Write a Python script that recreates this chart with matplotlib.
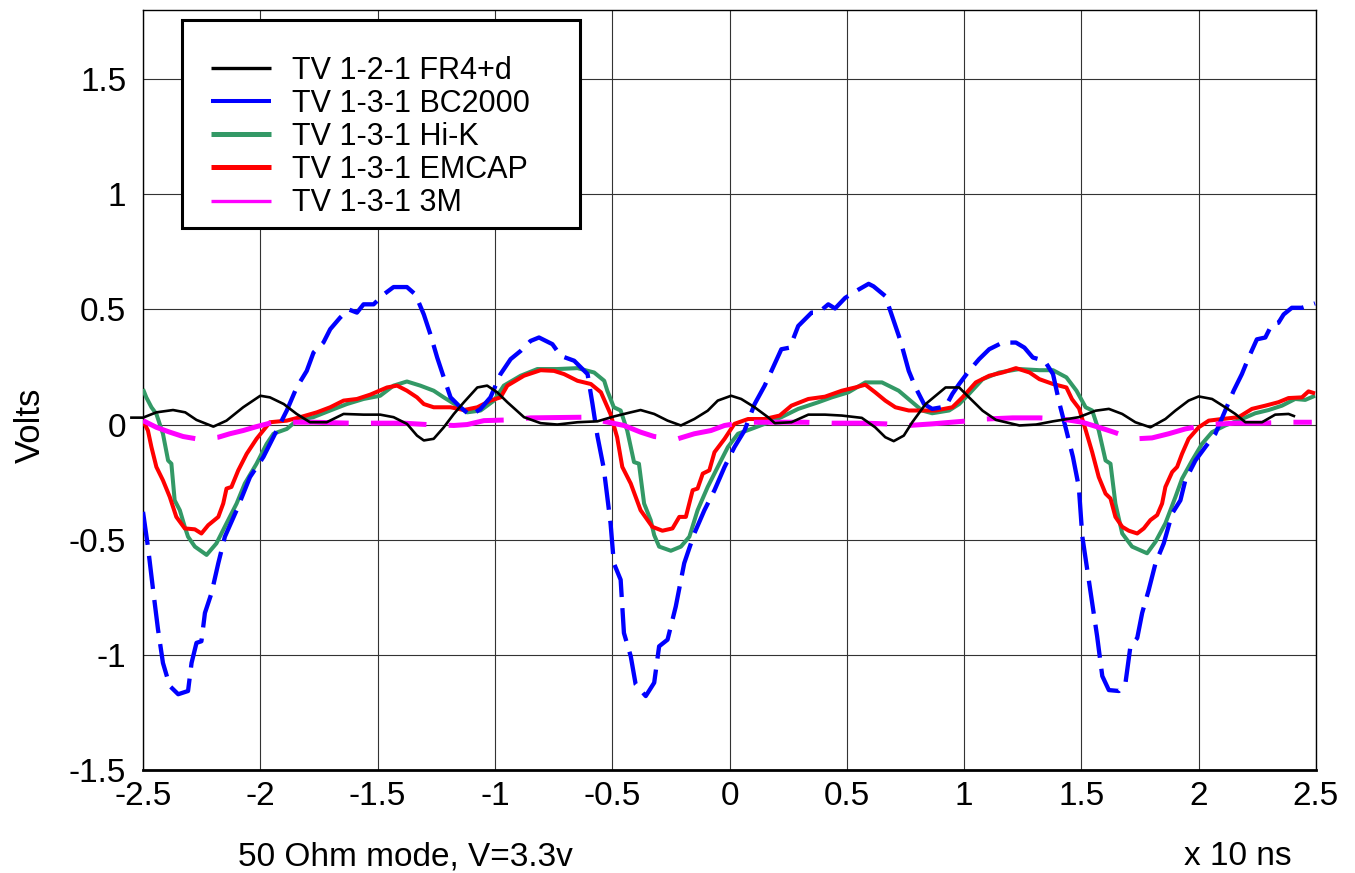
import matplotlib
matplotlib.use("Agg")
import matplotlib.pyplot as plt
from matplotlib.lines import Line2D
from matplotlib.patches import Rectangle
import numpy as np

plt.rcParams["font.family"] = ["Liberation Sans", "DejaVu Sans"]
plt.rcParams["lines.scale_dashes"] = False

# ---- axis ticks -------------------------------------------------------------
x_ticks = [-2.5, -2.0, -1.5, -1.0, -0.5, 0.0, 0.5, 1.0, 1.5, 2.0, 2.5]
x_tick_labels = ["-2.5", "-2", "-1.5", "-1", "-0.5", "0", "0.5", "1", "1.5", "2", "2.5"]
y_ticks = [-1.5, -1.0, -0.5, 0.0, 0.5, 1.0, 1.5]
y_tick_labels = ["-1.5", "-1", "-0.5", "0", "0.5", "1", "1.5"]

series_labels = ["TV 1-2-1 FR4+d", "TV 1-3-1 BC2000", "TV 1-3-1 Hi-K",
                 "TV 1-3-1 EMCAP", "TV 1-3-1 3M"]

# ---- measured waveforms: (time [x10 ns], volts) ------------------------------
fr4d = [
    (-2.555, 0.030), (-2.500, 0.030), (-2.443, 0.053), (-2.372, 0.063), (-2.320, 0.053),
    (-2.272, 0.020), (-2.200, -0.009), (-2.144, 0.017), (-2.073, 0.075), (-2.000, 0.125),
    (-1.959, 0.118), (-1.900, 0.089), (-1.845, 0.046), (-1.788, 0.010), (-1.717, 0.010),
    (-1.645, 0.046), (-1.560, 0.043), (-1.489, 0.043), (-1.432, 0.032), (-1.375, 0.003),
    (-1.332, -0.048), (-1.303, -0.069), (-1.261, -0.062), (-1.218, -0.012), (-1.175, 0.046),
    (-1.132, 0.097), (-1.075, 0.161), (-1.033, 0.169), (-0.990, 0.140), (-0.947, 0.097),
    (-0.876, 0.032), (-0.805, 0.006), (-0.734, 0.000), (-0.648, 0.010), (-0.563, 0.014),
    (-0.493, 0.035), (-0.421, 0.053), (-0.379, 0.063), (-0.321, 0.046), (-0.264, 0.017),
    (-0.207, -0.004), (-0.150, 0.024), (-0.093, 0.060), (-0.050, 0.104), (0.007, 0.125),
    (0.050, 0.111), (0.107, 0.075), (0.164, 0.032), (0.193, 0.006), (0.264, 0.010),
    (0.336, 0.043), (0.407, 0.043), (0.479, 0.039), (0.564, 0.029), (0.621, -0.012),
    (0.664, -0.055), (0.700, -0.072), (0.743, -0.048), (0.779, 0.010), (0.836, 0.089),
    (0.921, 0.161), (0.979, 0.161), (1.021, 0.118), (1.079, 0.060), (1.136, 0.020),
    (1.236, -0.004), (1.307, 0.000), (1.379, 0.014), (1.489, 0.032), (1.560, 0.060),
    (1.617, 0.068), (1.674, 0.046), (1.730, 0.010), (1.794, -0.012), (1.858, 0.024),
    (1.900, 0.060), (1.957, 0.104), (2.000, 0.122), (2.057, 0.111), (2.113, 0.075),
    (2.156, 0.046), (2.199, 0.010), (2.270, 0.010), (2.326, 0.043), (2.383, 0.046),
    (2.411, 0.035),
]

bc2000 = [
    (-2.500, -0.379), (-2.479, -0.530), (-2.457, -0.718), (-2.436, -0.890), (-2.415, -1.035),
    (-2.386, -1.135), (-2.350, -1.171), (-2.308, -1.157), (-2.293, -1.035), (-2.272, -0.948),
    (-2.251, -0.941), (-2.236, -0.818), (-2.208, -0.732), (-2.179, -0.602), (-2.151, -0.487),
    (-2.101, -0.372), (-2.044, -0.228), (-1.987, -0.141), (-1.930, -0.026), (-1.887, 0.061),
    (-1.845, 0.161), (-1.802, 0.233), (-1.773, 0.313), (-1.731, 0.356), (-1.702, 0.414),
    (-1.660, 0.464), (-1.624, 0.500), (-1.588, 0.486), (-1.560, 0.522), (-1.517, 0.522),
    (-1.474, 0.565), (-1.432, 0.597), (-1.375, 0.597), (-1.339, 0.565), (-1.303, 0.478),
    (-1.275, 0.392), (-1.246, 0.291), (-1.218, 0.205), (-1.189, 0.118), (-1.147, 0.075),
    (-1.104, 0.039), (-1.061, 0.068), (-1.019, 0.118), (-0.976, 0.219), (-0.933, 0.284),
    (-0.890, 0.320), (-0.848, 0.363), (-0.812, 0.378), (-0.755, 0.349), (-0.719, 0.298),
    (-0.662, 0.277), (-0.605, 0.219), (-0.584, 0.089), (-0.563, -0.050), (-0.536, -0.190),
    (-0.507, -0.429), (-0.493, -0.602), (-0.464, -0.674), (-0.450, -0.905), (-0.421, -1.006),
    (-0.400, -1.128), (-0.357, -1.179), (-0.321, -1.121), (-0.300, -0.963), (-0.264, -0.934),
    (-0.229, -0.790), (-0.193, -0.602), (-0.150, -0.473), (-0.107, -0.372), (-0.064, -0.285),
    (-0.021, -0.184), (0.021, -0.098), (0.064, -0.026), (0.107, 0.089), (0.150, 0.169),
    (0.179, 0.233), (0.221, 0.327), (0.257, 0.334), (0.293, 0.428), (0.350, 0.486),
    (0.379, 0.486), (0.421, 0.522), (0.450, 0.504), (0.493, 0.550), (0.550, 0.586),
    (0.593, 0.611), (0.614, 0.600), (0.664, 0.558), (0.700, 0.450), (0.729, 0.363),
    (0.764, 0.233), (0.793, 0.161), (0.829, 0.089), (0.864, 0.068), (0.921, 0.078),
    (0.950, 0.133), (0.979, 0.176), (1.021, 0.233), (1.064, 0.284), (1.107, 0.327),
    (1.164, 0.356), (1.221, 0.356), (1.257, 0.334), (1.293, 0.291), (1.343, 0.277),
    (1.379, 0.219), (1.407, 0.089), (1.436, -0.026), (1.464, -0.141), (1.489, -0.271),
    (1.504, -0.487), (1.525, -0.631), (1.546, -0.775), (1.567, -0.919), (1.589, -1.092),
    (1.617, -1.153), (1.660, -1.157), (1.688, -1.121), (1.709, -0.963), (1.738, -0.927),
    (1.759, -0.818), (1.787, -0.718), (1.816, -0.602), (1.851, -0.516), (1.887, -0.386),
    (1.922, -0.329), (1.943, -0.242), (1.986, -0.156), (2.028, -0.098), (2.071, -0.040),
    (2.113, 0.061), (2.149, 0.147), (2.184, 0.219), (2.213, 0.291), (2.248, 0.370),
    (2.284, 0.378), (2.312, 0.435), (2.340, 0.442), (2.362, 0.478), (2.397, 0.507),
    (2.440, 0.507), (2.496, 0.526),
]

hik = [
    (-2.500, 0.154), (-2.486, 0.118), (-2.464, 0.075), (-2.443, 0.046), (-2.415, -0.040),
    (-2.393, -0.156), (-2.379, -0.170), (-2.365, -0.329), (-2.343, -0.372), (-2.322, -0.444),
    (-2.308, -0.487), (-2.279, -0.530), (-2.229, -0.566), (-2.187, -0.516), (-2.144, -0.429),
    (-2.101, -0.343), (-2.066, -0.256), (-2.016, -0.170), (-1.973, -0.084), (-1.944, -0.040),
    (-1.887, -0.019), (-1.845, 0.017), (-1.774, 0.032), (-1.702, 0.061), (-1.631, 0.089),
    (-1.560, 0.111), (-1.489, 0.125), (-1.432, 0.169), (-1.375, 0.187), (-1.318, 0.169),
    (-1.261, 0.147), (-1.218, 0.118), (-1.161, 0.082), (-1.118, 0.053), (-1.061, 0.061),
    (-1.004, 0.104), (-0.962, 0.169), (-0.890, 0.212), (-0.819, 0.241), (-0.734, 0.241),
    (-0.648, 0.245), (-0.577, 0.226), (-0.534, 0.190), (-0.521, 0.147), (-0.493, 0.075),
    (-0.464, 0.061), (-0.436, -0.026), (-0.407, -0.163), (-0.386, -0.170), (-0.364, -0.343),
    (-0.336, -0.415), (-0.321, -0.480), (-0.300, -0.530), (-0.250, -0.548), (-0.207, -0.530),
    (-0.171, -0.487), (-0.136, -0.372), (-0.093, -0.271), (-0.050, -0.184), (-0.007, -0.098),
    (0.036, -0.040), (0.093, -0.019), (0.150, 0.003), (0.221, 0.032), (0.293, 0.068),
    (0.379, 0.097), (0.436, 0.118), (0.507, 0.140), (0.579, 0.183), (0.650, 0.183),
    (0.721, 0.147), (0.779, 0.097), (0.821, 0.061), (0.864, 0.049), (0.936, 0.061),
    (0.979, 0.089), (1.021, 0.133), (1.079, 0.197), (1.150, 0.226), (1.236, 0.241),
    (1.321, 0.236), (1.379, 0.236), (1.436, 0.205), (1.479, 0.147), (1.518, 0.075),
    (1.546, 0.061), (1.574, -0.026), (1.603, -0.156), (1.624, -0.170), (1.645, -0.343),
    (1.674, -0.473), (1.716, -0.530), (1.780, -0.559), (1.816, -0.509), (1.858, -0.429),
    (1.901, -0.314), (1.929, -0.235), (1.972, -0.156), (2.014, -0.084), (2.057, -0.033),
    (2.113, -0.004), (2.184, 0.024), (2.241, 0.049), (2.298, 0.063), (2.355, 0.082),
    (2.411, 0.111), (2.454, 0.107), (2.496, 0.125),
]

emcap = [
    (-2.500, 0.017), (-2.479, -0.026), (-2.464, -0.098), (-2.443, -0.184), (-2.415, -0.242),
    (-2.386, -0.314), (-2.358, -0.401), (-2.322, -0.451), (-2.279, -0.455), (-2.251, -0.473),
    (-2.222, -0.437), (-2.179, -0.401), (-2.158, -0.343), (-2.144, -0.278), (-2.123, -0.271),
    (-2.094, -0.199), (-2.058, -0.127), (-2.016, -0.062), (-1.959, 0.010), (-1.887, 0.017),
    (-1.830, 0.032), (-1.759, 0.053), (-1.702, 0.075), (-1.645, 0.104), (-1.588, 0.111),
    (-1.531, 0.130), (-1.460, 0.161), (-1.417, 0.169), (-1.375, 0.147), (-1.332, 0.118),
    (-1.303, 0.089), (-1.261, 0.075), (-1.189, 0.075), (-1.132, 0.063), (-1.075, 0.075),
    (-1.019, 0.104), (-0.976, 0.118), (-0.947, 0.169), (-0.876, 0.212), (-0.805, 0.236),
    (-0.748, 0.233), (-0.705, 0.219), (-0.648, 0.190), (-0.591, 0.176), (-0.548, 0.140),
    (-0.507, 0.045), (-0.479, -0.055), (-0.457, -0.184), (-0.421, -0.256), (-0.379, -0.372),
    (-0.329, -0.444), (-0.286, -0.461), (-0.243, -0.451), (-0.214, -0.401), (-0.186, -0.401),
    (-0.157, -0.285), (-0.136, -0.278), (-0.114, -0.213), (-0.086, -0.199), (-0.064, -0.120),
    (-0.021, -0.062), (0.021, 0.003), (0.079, 0.024), (0.150, 0.024), (0.214, 0.039),
    (0.264, 0.082), (0.336, 0.111), (0.407, 0.121), (0.479, 0.147), (0.536, 0.161),
    (0.579, 0.173), (0.621, 0.140), (0.664, 0.104), (0.707, 0.075), (0.764, 0.061),
    (0.821, 0.061), (0.879, 0.061), (0.950, 0.075), (0.993, 0.118), (1.050, 0.183),
    (1.107, 0.212), (1.164, 0.226), (1.221, 0.245), (1.279, 0.226), (1.321, 0.197),
    (1.379, 0.176), (1.436, 0.161), (1.460, 0.110), (1.490, 0.070), (1.520, -0.030),
    (1.546, -0.120), (1.574, -0.228), (1.603, -0.300), (1.624, -0.321), (1.645, -0.401),
    (1.674, -0.444), (1.702, -0.461), (1.738, -0.473), (1.766, -0.451), (1.794, -0.415),
    (1.823, -0.393), (1.844, -0.343), (1.858, -0.271), (1.887, -0.206), (1.908, -0.184),
    (1.929, -0.127), (1.957, -0.062), (2.000, -0.012), (2.043, 0.017), (2.099, 0.024),
    (2.170, 0.032), (2.227, 0.068), (2.284, 0.082), (2.340, 0.097), (2.383, 0.115),
    (2.440, 0.118), (2.468, 0.144), (2.496, 0.135),
]

tm3 = [
    (-2.500, 0.017), (-2.443, -0.012), (-2.386, -0.033), (-2.329, -0.052), (-2.272, -0.062),
    (-2.220, -0.060), (-2.179, -0.055), (-2.130, -0.040), (-2.073, -0.026), (-2.016, -0.009),
    (-1.944, 0.010), (-1.859, 0.010), (-1.774, 0.010), (-1.617, 0.006), (-1.503, 0.006),
    (-1.389, 0.006), (-1.289, 0.000), (-1.175, -0.004), (-1.118, 0.000), (-1.047, 0.017),
    (-0.947, 0.020), (-0.848, 0.029), (-0.605, 0.032), (-0.536, 0.014), (-0.450, -0.004),
    (-0.379, -0.033), (-0.321, -0.052), (-0.221, -0.062), (-0.150, -0.040), (-0.079, -0.026),
    (-0.021, -0.004), (0.064, 0.010), (0.179, 0.010), (0.321, 0.010), (0.436, 0.006),
    (0.579, 0.006), (0.664, 0.003), (0.764, -0.004), (0.864, 0.003), (0.993, 0.014),
    (1.093, 0.024), (1.207, 0.029), (1.321, 0.029), (1.418, 0.024), (1.504, 0.010),
    (1.574, -0.012), (1.638, -0.033), (1.700, -0.055), (1.730, -0.062), (1.801, -0.058),
    (1.872, -0.040), (1.943, -0.019), (2.043, 0.000), (2.156, 0.006), (2.270, 0.006),
    (2.383, 0.010), (2.482, 0.010),
]

# ---- figure -----------------------------------------------------------------
W, H = 1355, 873
fig = plt.figure(figsize=(W / 100, H / 100), dpi=100)
ax = fig.add_axes([143 / W, 103 / H, 1173 / W, 760 / H])
ax.set_xlim(-2.5, 2.5)
ax.set_ylim(-1.5, 1.8)


def ax_x(px):
    return (px - 143) / 1173


def ax_y(py):
    return (770 - py) / 760


styles = [
    # data, colour, width, dash pattern, zorder, clip
    (fr4d, "#000000", 1.9, None, 3.6, False),
    (bc2000, "#0000ff", 3.1, (24, 8), 3.2, True),
    (hik, "#339966", 2.9, None, 3.0, True),
    (emcap, "#ff0000", 2.9, None, 3.1, True),
    (tm3, "#ff00ff", 3.6, (40, 16), 3.4, True),
]

for (data, color, lw, dashes, z, clip), label in zip(styles, series_labels):
    t, v = np.array(data).T
    line, = ax.plot(t, v, color=color, lw=lw, zorder=z, label=label,
                    solid_joinstyle="round", dash_joinstyle="round",
                    solid_capstyle="butt", dash_capstyle="butt")
    if dashes is not None:
        line.set_dashes(dashes)
    line.set_clip_on(clip)

# grid, ticks, spines
ax.set_xticks(x_ticks)
ax.set_xticklabels(x_tick_labels)
ax.set_yticks(y_ticks)
ax.set_yticklabels(y_tick_labels)
ax.grid(True, color="#333333", lw=0.8)
ax.set_axisbelow(True)
ax.tick_params(axis="x", length=0, pad=8, labelsize=24)
ax.tick_params(axis="y", length=0, pad=12, labelsize=24)
for name, sp in ax.spines.items():
    sp.set_color("black")
    sp.set_linewidth(2.0 if name == "bottom" else 1.0)

ax.set_ylabel("Volts", fontsize=25)
ax.yaxis.set_label_coords(ax_x(30), ax_y(425))
ax.yaxis.label.set_verticalalignment("center")

fig.text(405 / W, 1 - 865 / H, "50 Ohm mode, V=3.3v", fontsize=24,
         ha="center", va="baseline")
fig.text(1238 / W, 1 - 865 / H, "x 10 ns", fontsize=24,
         ha="center", va="baseline")

# legend: white boxed frame with entries on top
frame = Rectangle((ax_x(182), ax_y(228)), ax_x(580) - ax_x(182), ax_y(20) - ax_y(228),
                  transform=ax.transAxes, facecolor="white", edgecolor="black",
                  lw=2.2, zorder=5, clip_on=False)
ax.add_patch(frame)

handle_widths = [2.4, 2.9, 3.6, 3.6, 2.4]
proxies = [Line2D([], [], color=s[1], lw=w, solid_capstyle="butt")
           for s, w in zip(styles, handle_widths)]
leg = ax.legend(proxies, series_labels, loc="upper left",
                bbox_to_anchor=(ax_x(211), ax_y(56)), frameon=False,
                fontsize=22, handlelength=1.96, handletextpad=0.69,
                borderpad=0, borderaxespad=0, labelspacing=0.10)
leg.set_zorder(6)

fig.savefig("out.png", dpi=100)
